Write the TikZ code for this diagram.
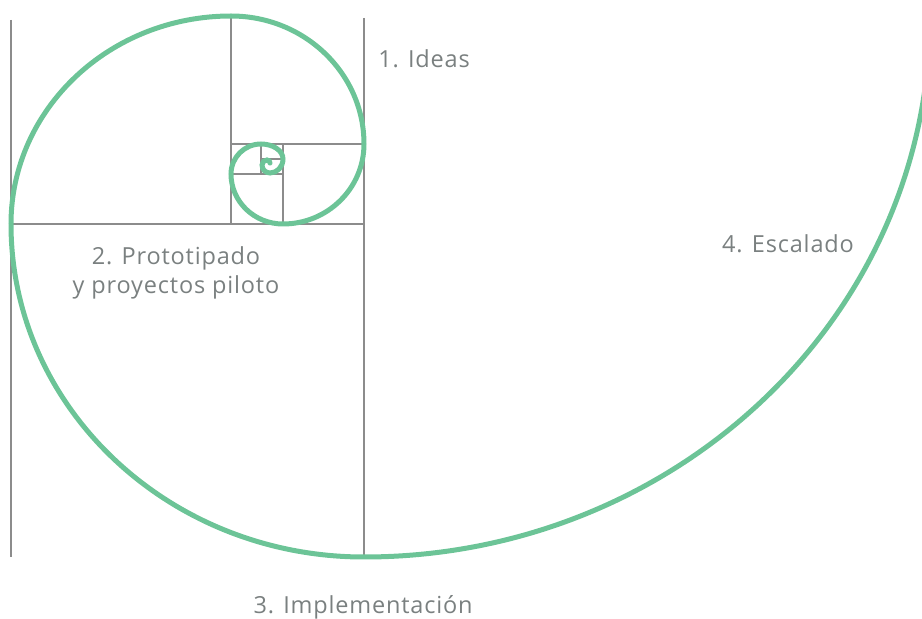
\documentclass[tikz,border=0pt]{standalone}
\usepackage{fontspec}
\setmainfont[Ligatures=NoCommon,LetterSpace=3.5]{Open Sans}
\definecolor{spiralgreen}{HTML}{6CC497}
\definecolor{gridgray}{HTML}{8C8C8C}
\definecolor{labelgray}{HTML}{7A8080}
\begin{document}
\begin{tikzpicture}[x=1pt,y=1pt,
  gridline/.style={draw=gridgray,line width=1.2pt},
  spiral/.style={draw=spiralgreen,line width=5pt,line cap=round},
  lbl/.style={text=labelgray,font=\fontsize{23.5}{29}\selectfont,inner sep=0pt,align=center}]
\clip (0,0) rectangle (922,619);
% grid (Y = 619 - pixel y)
\coordinate (L1t) at (11,599); \coordinate (L1b) at (11,62);
\coordinate (L2t) at (364,601); \coordinate (L2b) at (364,64);
\coordinate (L3t) at (231,603); \coordinate (L3b) at (231,395);
\coordinate (H1l) at (11,395); \coordinate (H1r) at (364,395);
\coordinate (H2l) at (231,475); \coordinate (H2r) at (364,475);
\coordinate (V4t) at (283,475); \coordinate (V4b) at (283,395);
\coordinate (H3l) at (231,445); \coordinate (H3r) at (283,445);
\coordinate (V5t) at (261,475); \coordinate (V5b) at (261,445);
\coordinate (H4l) at (261,460); \coordinate (H4r) at (283,460);
\path[gridline] (L1t) -- (L1b);
\path[gridline] (L2t) -- (L2b);
\path[gridline] (L3t) -- (L3b);
\path[gridline] (H1l) -- (H1r);
\path[gridline] (H2l) -- (H2r);
\path[gridline] (V4t) -- (V4b);
\path[gridline] (H3l) -- (H3r);
\path[gridline] (V5t) -- (V5b);
\path[gridline] (H4l) -- (H4r);
% spiral
\coordinate (S0) at ({364+566*cos(-6)},{602+540*sin(-6)});
\path[spiral] (S0)
  arc[start angle=-6,end angle=-90,x radius=566,y radius=540]
  arc[start angle=-90,end angle=-180,x radius=353,y radius=333]
  arc[start angle=180,end angle=90,x radius=220,y radius=208]
  arc[start angle=90,end angle=0,x radius=133,y radius=128]
  arc[start angle=0,end angle=-90,x radius=81,y radius=80]
  arc[start angle=-90,end angle=-180,x radius=52,y radius=50]
  arc[start angle=180,end angle=90,x radius=30,y radius=30]
  arc[start angle=90,end angle=0,x radius=22,y radius=15]
  arc[start angle=0,end angle=-90,x radius=13,y radius=14]
  arc[start angle=-90,end angle=-180,x radius=8,y radius=8]
  arc[start angle=180,end angle=90,x radius=5,y radius=5]
  arc[start angle=90,end angle=0,x radius=3,y radius=3];
% labels
\node[lbl] (ideas) at (424,560) {1. Ideas};
\node[lbl] (proto) at (176,346) {2. Prototipado\\y proyectos piloto};
\node[lbl] (impl) at (363,12) {3. Implementación};
\node[lbl] (esc) at (788,375) {4. Escalado};
\end{tikzpicture}
\end{document}
